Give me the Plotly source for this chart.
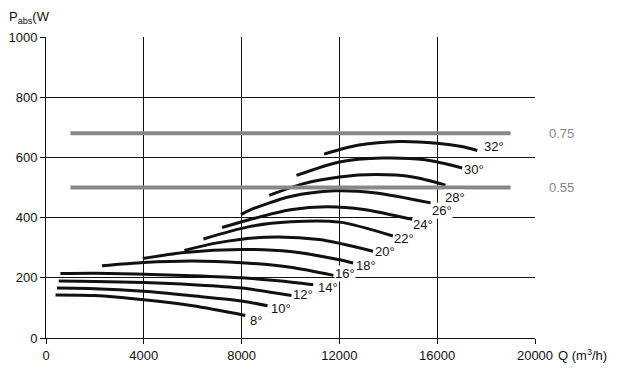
import plotly.graph_objects as go

# ---- data ----
angles = ["8°", "10°", "12°", "14°", "16°", "18°", "20°", "22°", "24°", "26°", "28°", "30°", "32°"]

q_8 = [390, 2000, 4000, 6000, 8150]
p_8 = [143, 141, 127, 107, 75]
q_10 = [450, 2000, 4000, 6000, 8000, 9060]
p_10 = [166, 164, 155, 140, 123, 107]
q_12 = [520, 2000, 4000, 6000, 8000, 10040]
p_12 = [189, 188, 184, 177, 166, 141]
q_14 = [590, 2000, 4000, 6000, 8000, 9500, 10930]
p_14 = [214, 215, 212, 207, 200, 190, 177]
q_16 = [2290, 4000, 6000, 8000, 10000, 11755]
p_16 = [240, 251, 256, 250, 235, 208]
q_18 = [3960, 5660, 8000, 10000, 12000, 12560]
p_18 = [264, 284, 294, 287, 260, 249]
q_20 = [5660, 7000, 9000, 11170, 13375]
p_20 = [291, 316, 335, 327, 288]
q_22 = [6440, 8310, 10000, 12000, 14190]
p_22 = [329, 370, 386, 385, 339]
q_24 = [7200, 8310, 10000, 11500, 13000, 14980]
p_24 = [367, 393, 426, 436, 427, 394]
q_26 = [7975, 8310, 10000, 11800, 13500, 15730]
p_26 = [410, 424, 470, 489, 482, 449]
q_28 = [9130, 10500, 12000, 13500, 15000, 16340]
p_28 = [474, 512, 535, 543, 535, 508]
q_30 = [10245, 12000, 13760, 15500, 17020]
p_30 = [540, 585, 598, 592, 565]
q_32 = [11375, 12800, 14440, 16000, 17000, 17640]
p_32 = [611, 641, 653, 647, 636, 623]

q_series = [q_8, q_10, q_12, q_14, q_16, q_18, q_20, q_22, q_24, q_26, q_28, q_30, q_32]
p_series = [p_8, p_10, p_12, p_14, p_16, p_18, p_20, p_22, p_24, p_26, p_28, p_30, p_32]

limit_labels = ["0.75", "0.55"]
limit_values = [680, 500]
limit_q = [1000, 19000]

x_ticks = [0, 4000, 8000, 12000, 16000, 20000]
y_ticks = [0, 200, 400, 600, 800, 1000]

# ---- styles ----
label_shift = [(11, -5), (13, -3), (12, 1), (15, -3), (12, 2), (13, -2), (12, 0),
               (11, -3), (11, -5), (11, -8), (9, -12), (12, -2), (17, 4)]
FONT = "Arial, Liberation Sans, sans-serif"
INK = "#111111"

fig = go.Figure()

for q, p in zip(q_series, p_series):
    fig.add_trace(go.Scatter(x=q, y=p, mode="lines",
                             line=dict(color=INK, width=3, shape="spline", smoothing=0.8),
                             hoverinfo="skip", showlegend=False))

for v in limit_values:
    fig.add_trace(go.Scatter(x=limit_q, y=[v, v], mode="lines",
                             line=dict(color="#888888", width=4),
                             hoverinfo="skip", showlegend=False))

annotations = []
for name, q, p, (dx, dy) in zip(angles, q_series, p_series, label_shift):
    annotations.append(dict(x=q[-1], y=p[-1], xref="x", yref="y", text=name,
                            showarrow=False, xshift=dx, yshift=dy,
                            font=dict(family=FONT, size=13, color=INK),
                            bgcolor="white", borderpad=0))

for lab, v in zip(limit_labels, limit_values):
    annotations.append(dict(x=1.0546, y=v, xref="paper", yref="y", text=lab,
                            showarrow=False, xanchor="center",
                            font=dict(family=FONT, size=13, color="#888888")))

annotations.append(dict(x=1.042, y=-0.055, xref="paper", yref="paper",
                        text="Q (m<sup>3</sup>/h)", showarrow=False,
                        xanchor="left", yanchor="middle",
                        font=dict(family=FONT, size=13, color=INK)))
annotations.append(dict(x=-0.08, y=1.066, xref="paper", yref="paper",
                        text="P<sub>abs</sub>(W", showarrow=False,
                        xanchor="left", yanchor="middle",
                        font=dict(family=FONT, size=13, color=INK)))

axis_common = dict(showgrid=True, gridcolor=INK, gridwidth=1,
                   showline=True, linecolor=INK, linewidth=1,
                   ticks="outside", ticklen=5, tickcolor=INK,
                   zeroline=False, automargin=False,
                   tickfont=dict(family=FONT, size=13, color=INK))

# the page body adds an 8px offset, so the figure is sized to fit inside the window
fig.update_layout(
    width=618, height=362,
    margin=dict(l=38, r=91, t=29, b=32, autoexpand=False),
    paper_bgcolor="white", plot_bgcolor="white",
    font=dict(family=FONT, size=13, color=INK),
    annotations=annotations,
    xaxis=dict(range=[0, 20000], tickvals=x_ticks, ticktext=[str(t) for t in x_ticks], **axis_common),
    yaxis=dict(range=[0, 1000], tickvals=y_ticks, ticktext=[str(t) for t in y_ticks], **axis_common),
)

fig.write_html("out.html")
